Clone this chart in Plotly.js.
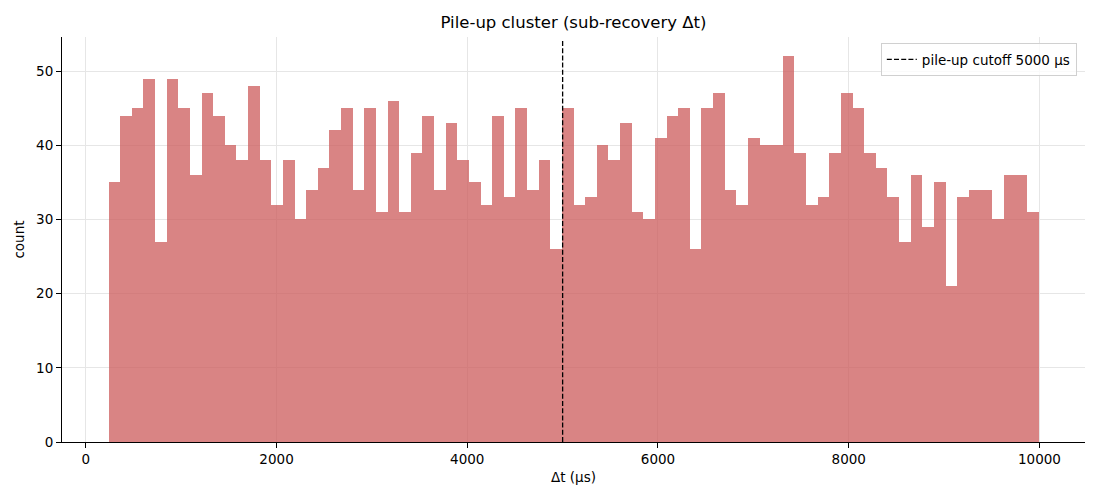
<!DOCTYPE html>
<html>
<head>
<meta charset="utf-8">
<script src="https://cdn.plot.ly/plotly-3.0.1.min.js"></script>
<style>
  html, body { margin: 0; padding: 0; background: #fff; }
  #chart { width: 1100px; height: 500px; }
</style>
</head>
<body>
<div id="chart"></div>
<script>
// Histogram of sub-recovery Δt in the pile-up cluster; dashed cutoff line.

const BIN_START = 238;     // μs, left edge of first bin
const BIN_WIDTH = 121.9;   // μs
const COUNTS = [
  35, 44, 45, 49, 27, 49, 45, 36, 47, 44,
  40, 38, 48, 38, 32, 38, 30, 34, 37, 42,
  45, 34, 45, 31, 46, 31, 39, 44, 34, 43,
  38, 35, 32, 44, 33, 45, 34, 38, 26, 45,
  32, 33, 40, 38, 43, 31, 30, 41, 44, 45,
  26, 45, 47, 34, 32, 41, 40, 40, 52, 39,
  32, 33, 39, 47, 45, 39, 37, 33, 27, 36,
  29, 35, 21, 33, 34, 34, 30, 36, 36, 31,
];
const CUTOFF = 5000;
const X_TICKS = [0, 2000, 4000, 6000, 8000, 10000];
const Y_TICKS = [0, 10, 20, 30, 40, 50];

const FONT = "'DejaVu Sans', sans-serif";
const centers = COUNTS.map((_, i) => BIN_START + (i + 0.5) * BIN_WIDTH);
const yMax = Math.max(...COUNTS) * 1.05;
const xLo = BIN_START, xHi = BIN_START + COUNTS.length * BIN_WIDTH;
const xPad = (xHi - xLo) * 0.05;

const traces = [
  {
    type: "bar",
    x: centers,
    y: COUNTS,
    width: BIN_WIDTH,
    marker: { color: "indianred", line: { width: 0 } },
    opacity: 0.75,
    showlegend: false,
    hovertemplate: "%{x:.0f} μs: %{y}<extra></extra>",
  },
];

const axisCommon = {
  showline: true,
  linecolor: "#000",
  linewidth: 1,
  ticks: "outside",
  ticklen: 5,
  tickcolor: "#000",
  showgrid: true,
  gridcolor: "#e6e6e6",
  gridwidth: 1,
  zeroline: false,
  tickfont: { family: FONT, size: 13.5, color: "#000" },
};

const layout = {
  width: 1100,
  height: 500,
  paper_bgcolor: "#fff",
  plot_bgcolor: "#fff",
  font: { family: FONT, color: "#000" },
  margin: { l: 62, r: 15, t: 37, b: 58 },
  bargap: 0,
  title: {
    text: "Pile-up cluster (sub-recovery Δt)",
    font: { family: FONT, size: 16.5, color: "#000" },
    x: 0.5, xref: "paper", xanchor: "center",
    y: 0.955, yanchor: "middle",
  },
  xaxis: {
    ...axisCommon,
    range: [xLo - xPad, xHi + xPad],
    tickvals: X_TICKS,
    ticktext: X_TICKS.map(String),
    title: { text: "Δt (μs)", font: { family: FONT, size: 13.5 }, standoff: 6 },
  },
  yaxis: {
    ...axisCommon,
    range: [0, yMax],
    tickvals: Y_TICKS,
    title: { text: "count", font: { family: FONT, size: 13.5 }, standoff: 8 },
  },
  shapes: [
    {
      type: "line",
      xref: "x", yref: "paper",
      x0: CUTOFF, x1: CUTOFF, y0: 0, y1: 0.99,
      line: { color: "#000", width: 1.3, dash: "5px,2.2px" },
      name: `pile-up cutoff ${CUTOFF} μs`,
      showlegend: true,
    },
  ],
  legend: {
    x: 0.992, y: 0.985, xanchor: "right", yanchor: "top",
    bgcolor: "rgba(255,255,255,0.8)",
    bordercolor: "#d0d0d0",
    borderwidth: 1,
    font: { family: FONT, size: 13.5, color: "#000" },
  },
};

Plotly.newPlot("chart", traces, layout, { displayModeBar: false, responsive: false });
</script>
</body>
</html>
